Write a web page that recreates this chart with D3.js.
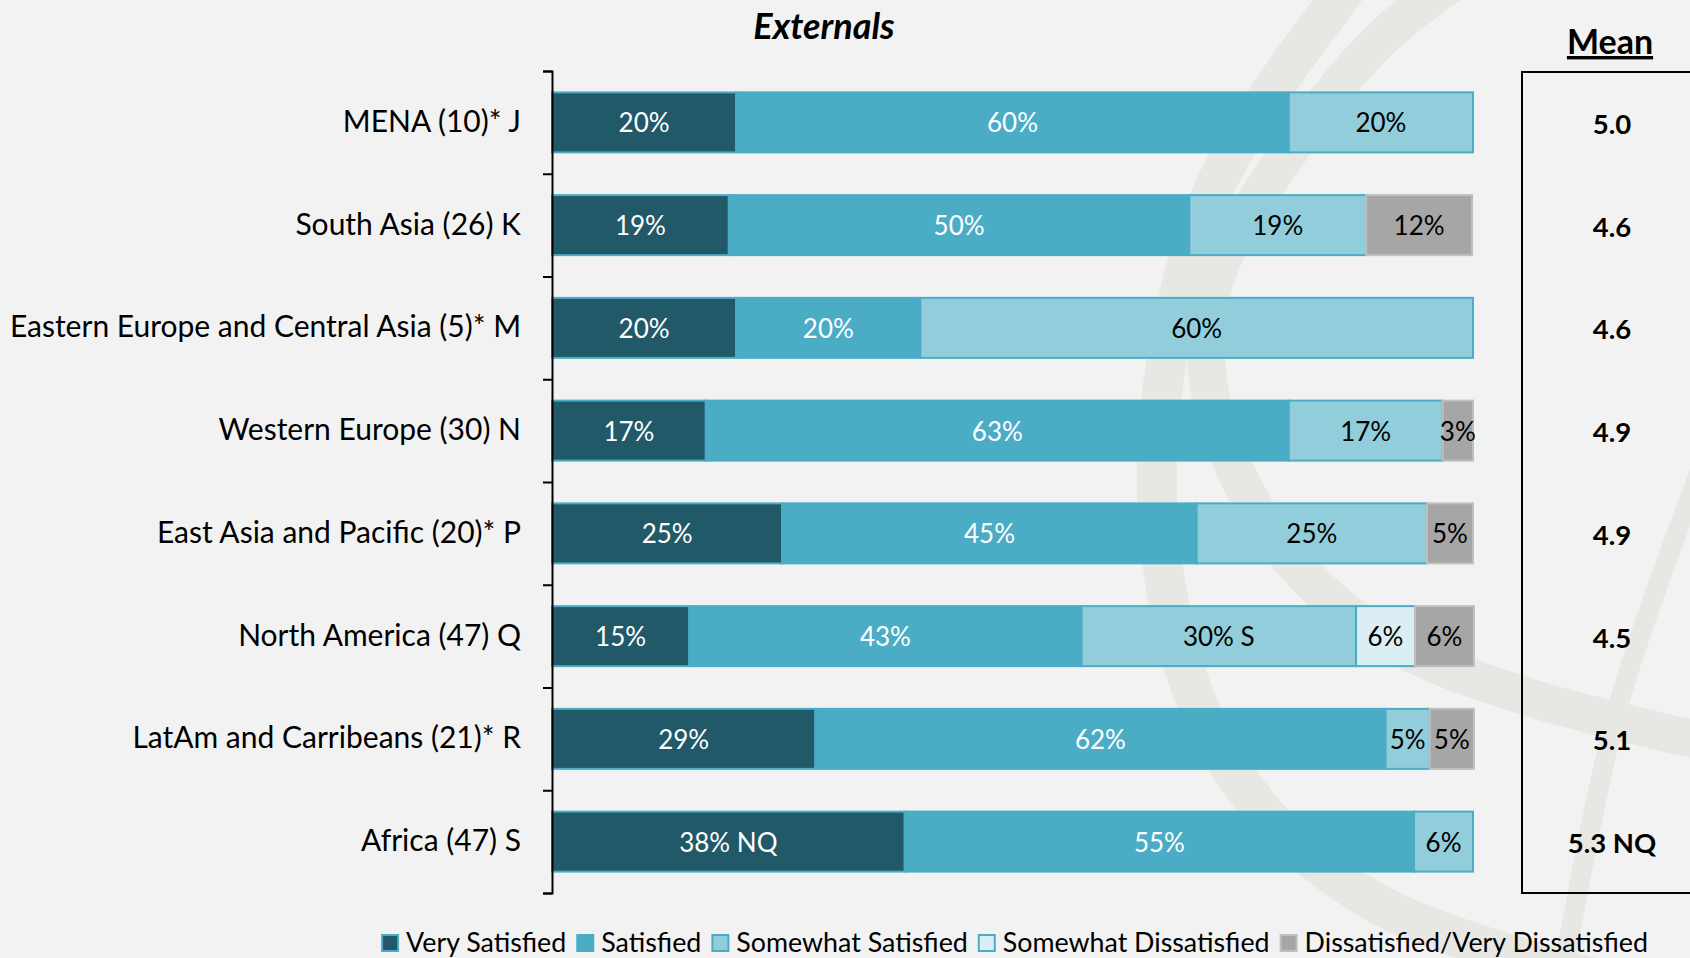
<!DOCTYPE html>
<html>
<head>
<meta charset="utf-8">
<script src="https://cdn.jsdelivr.net/npm/d3@7/dist/d3.min.js"></script>
<style>
  html, body { margin: 0; padding: 0; background: #F2F2F2; }
  svg { display: block; }
  text { font-family: Lato, "Noto Sans", sans-serif; }
</style>
</head>
<body>
<svg id="chart" width="1690" height="958"></svg>
<script>
// ---- data ----
const categories = [
  "MENA (10)* J",
  "South Asia (26) K",
  "Eastern Europe and Central Asia (5)* M",
  "Western Europe (30) N",
  "East Asia and Pacific (20)* P",
  "North America (47) Q",
  "LatAm and Carribeans (21)* R",
  "Africa (47) S"
];
const seriesNames = ["Very Satisfied", "Satisfied", "Somewhat Satisfied", "Somewhat Dissatisfied", "Dissatisfied/Very Dissatisfied"];
const verySatisfied        = [20, 19.2, 20, 16.7, 25, 14.9, 28.6, 38.3];
const satisfied            = [60, 50.0, 20, 63.3, 45, 42.6, 61.9, 55.3];
const somewhatSatisfied    = [20, 19.2, 60, 16.7, 25, 29.8, 4.8, 6.4];
const somewhatDissatisfied = [0, 0, 0, 0, 0, 6.4, 0, 0];
const dissatisfied         = [0, 11.5, 0, 3.3, 5, 6.4, 4.8, 0];
const labelsVS  = ["20%", "19%", "20%", "17%", "25%", "15%", "29%", "38% NQ"];
const labelsS   = ["60%", "50%", "20%", "63%", "45%", "43%", "62%", "55%"];
const labelsSS  = ["20%", "19%", "60%", "17%", "25%", "30% S", "5%", "6%"];
const labelsSD  = ["", "", "", "", "", "6%", "", ""];
const labelsD   = ["", "12%", "", "3%", "5%", "6%", "5%", ""];
const means = ["5.0", "4.6", "4.6", "4.9", "4.9", "4.5", "5.1", "5.3 NQ"];
const title = "Externals";
const meanTitle = "Mean";

const colors = ["#215968", "#4BACC6", "#92CDDC", "#DAEEF3", "#A6A6A6"];
const strokes = ["#4BACC6", "#4BACC6", "#4BACC6", "#4BACC6", "#BFBFBF"];
const textColors = ["#FFFFFF", "#FFFFFF", "#000000", "#000000", "#000000"];

const seriesVals = [verySatisfied, satisfied, somewhatSatisfied, somewhatDissatisfied, dissatisfied];
const seriesLabels = [labelsVS, labelsS, labelsSS, labelsSD, labelsD];

const table = categories.map((c, i) => {
  const row = { cat: c };
  seriesNames.forEach((s, k) => { row[s] = seriesVals[k][i]; });
  return row;
});

// ---- layout ----
const svg = d3.select("#chart");
svg.append("rect").attr("width", 1690).attr("height", 958).attr("fill", "#F2F2F2");

// faint background watermark (decorative)
const wmLine = d3.line().curve(d3.curveCatmullRom);
const wm = svg.append("g").attr("fill", "none").attr("stroke", "#E7E7E3");
wm.append("path").attr("stroke-width", 40).attr("d", wmLine([
  [1360, -30], [1266, 100], [1209, 200], [1172, 330], [1157, 470], [1168, 600],
  [1192, 690], [1232, 770], [1290, 840], [1380, 905], [1480, 945], [1620, 985]
]));
wm.append("path").attr("stroke-width", 38).attr("d", wmLine([
  [1470, -30], [1380, 40], [1290, 150], [1215, 280], [1208, 380], [1240, 480],
  [1300, 570], [1396, 645], [1528, 697], [1720, 745]
]));
wm.append("path").attr("stroke-width", 20).attr("d", wmLine([
  [1560, 990], [1620, 700], [1720, 420]
]));

const x = d3.scaleLinear().domain([0, 100]).range([552, 1473]);
const y = d3.scaleBand().domain(categories).range([71, 893]).paddingInner(0.416).paddingOuter(0.208);
const yEdges = d3.scaleLinear().domain([0, categories.length]).range([71, 893]);

const stack = d3.stack().keys(seriesNames)(table);

const layers = svg.append("g").selectAll("g").data(stack).join("g");
layers.each(function(layer, k) {
  d3.select(this).selectAll("rect").data(layer.filter(d => d[1] - d[0] > 0)).join("rect")
    .attr("x", d => x(d[0]))
    .attr("y", d => y(d.data.cat))
    .attr("width", d => x(d[1]) - x(d[0]))
    .attr("height", y.bandwidth())
    .attr("fill", colors[k])
    .attr("stroke", strokes[k])
    .attr("stroke-width", 2);
});
layers.each(function(layer, k) {
  d3.select(this).selectAll("text")
    .data(layer.map((d, i) => ({ d, i })).filter(o => seriesLabels[k][o.i] !== ""))
    .join("text")
    .attr("x", o => (x(o.d[0]) + x(o.d[1])) / 2)
    .attr("y", o => y(o.d.data.cat) + y.bandwidth() / 2)
    .attr("text-anchor", "middle")
    .attr("dominant-baseline", "central")
    .attr("font-size", 26)
    .attr("fill", textColors[k])
    .text(o => seriesLabels[k][o.i]);
});

// axis line with boundary ticks
svg.append("g").attr("transform", "translate(552,0)")
  .call(d3.axisLeft(yEdges).ticks(categories.length).tickSize(9).tickFormat(""))
  .call(g => g.selectAll("path,line").attr("stroke", "#000").attr("stroke-width", 2));

// category labels
svg.append("g").attr("transform", "translate(552,0)")
  .call(d3.axisLeft(y).tickSize(0).tickPadding(31))
  .call(g => g.select(".domain").remove())
  .call(g => g.selectAll("text").attr("font-size", 30).attr("fill", "#000").attr("font-family", "Lato"));

// title
svg.append("text").attr("x", 824).attr("y", 39).attr("text-anchor", "middle")
  .attr("font-size", 36).attr("font-weight", "bold").attr("font-style", "italic").text(title);

// mean box
svg.append("rect").attr("x", 1522).attr("y", 72).attr("width", 200).attr("height", 821)
  .attr("fill", "none").attr("stroke", "#000").attr("stroke-width", 2);
svg.append("text").attr("x", 1610).attr("y", 54).attr("text-anchor", "middle")
  .attr("font-size", 34).attr("font-weight", "bold").style("text-decoration", "underline").text(meanTitle);
svg.append("g").selectAll("text").data(categories).join("text")
  .attr("x", 1612).attr("y", d => y(d) + y.bandwidth() / 2 + 1)
  .attr("text-anchor", "middle").attr("dominant-baseline", "central")
  .attr("font-size", 27.5).attr("font-weight", "bold")
  .text((d, i) => means[i]);

// legend
const legend = svg.append("g");
const items = legend.selectAll("g").data(seriesNames).join("g");
items.append("rect").attr("width", 16).attr("height", 16).attr("y", -17)
  .attr("fill", (d, i) => colors[i]).attr("stroke", (d, i) => strokes[i]).attr("stroke-width", 2);
items.append("text").attr("x", 24).attr("font-size", 26.8).text(d => d);
let cx = 0;
items.each(function() {
  const w = this.querySelector("text").getComputedTextLength();
  d3.select(this).attr("transform", `translate(${cx},952)`);
  cx += 24 + w + 11;
});
const total = cx - 11;
legend.attr("transform", `translate(${1015 - total / 2},0)`);
</script>
</body>
</html>
